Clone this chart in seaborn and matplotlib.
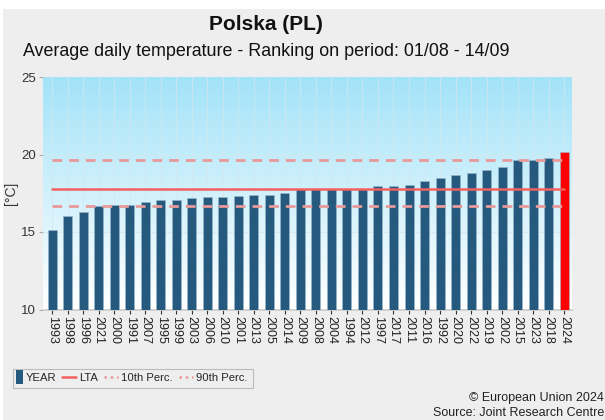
import numpy as np
import pandas as pd
import matplotlib
matplotlib.use("Agg")
import matplotlib.pyplot as plt
from matplotlib.patches import Rectangle, Patch
from matplotlib.lines import Line2D
from matplotlib.legend_handler import HandlerPatch
import seaborn as sns

years = ["1993", "1998", "1996", "2021", "2000", "1991", "2007", "1995", "1999",
         "2003", "2006", "2010", "2001", "2013", "2005", "2014", "2009", "2008",
         "2004", "1994", "2012", "1997", "2017", "2011", "2016", "1992", "2020",
         "2022", "2019", "2002", "2015", "2023", "2018", "2024"]
temps = [15.15, 16.05, 16.29, 16.70, 16.76, 16.76, 16.93, 17.06, 17.08,
         17.17, 17.23, 17.27, 17.30, 17.36, 17.40, 17.53, 17.75, 17.75,
         17.75, 17.75, 17.76, 17.96, 17.96, 18.03, 18.28, 18.48, 18.67,
         18.78, 19.01, 19.18, 19.64, 19.66, 19.79, 20.13]
lta = 17.79
p10 = 16.70
p90 = 19.66
current_year = "2024"

BAR = "#255a7e"
CUR = "#ff0000"

sns.set_theme(style="white")
plt.rcParams["font.family"] = ["Liberation Sans", "DejaVu Sans"]

fig = plt.figure(figsize=(6.05, 4.2), dpi=100, facecolor="white")
fig.patches.append(Rectangle((3 / 605, 0), 1, 1 - 9 / 420, transform=fig.transFigure,
                             facecolor="#eeeeee", edgecolor="none", zorder=-10))

ax = fig.add_axes([43 / 605, 1 - 309.5 / 420, (572 - 43) / 605, (309.5 - 77) / 420])

# vertical gradient background: light sky blue fading to white
grad = np.linspace(1, 0, 256).reshape(-1, 1)
top = np.array([0.64, 0.89, 0.975])
bot = np.array([1.0, 1.0, 1.0])
img = bot + (top - bot) * grad[..., None]
ax.imshow(img, extent=[0, 1, 0, 1], transform=ax.transAxes, aspect="auto", zorder=0)

df = pd.DataFrame({"year": years, "temp": temps})
df["kind"] = np.where(df["year"] == current_year, "cur", "past")
sns.barplot(data=df, x="year", y="temp", hue="kind",
            palette={"past": BAR, "cur": CUR}, saturation=1, dodge=False,
            width=0.58, edgecolor="#9ab8cc", linewidth=0.4, legend=False,
            ax=ax, zorder=3)

n = len(years)
ax.set_xlim(-0.58, n - 0.5)
ax.set_ylim(10, 25)
ax.set_yticks([10, 15, 20, 25])

for x in range(n):
    ax.axvline(x, color="#d6e6ec", lw=0.5, zorder=1)
for y in (15, 20):
    ax.axhline(y, color="#d6e6ec", lw=0.5, zorder=1)

ax.plot([0, n - 1], [p90, p90], color="#e89a9a", lw=2, ls=(0, (3.5, 2.5)), zorder=4)
ax.plot([0, n - 1], [p10, p10], color="#e89a9a", lw=2, ls=(0, (3.5, 2.5)), zorder=4)
ax.plot([0, n - 1], [lta, lta], color="#f26060", lw=1.8, zorder=4)

for s in ("top", "right", "left"):
    ax.spines[s].set_visible(False)
ax.spines["bottom"].set_color("#cccccc")
ax.tick_params(axis="x", rotation=-90, labelsize=9, length=3, width=0.8,
               color="#333333", bottom=True, pad=1.5)
ax.tick_params(axis="y", labelsize=9.5, length=3, width=0.8, color="#aaaaaa",
               left=True, pad=2, labelcolor="#333333")
for lbl in ax.get_xticklabels():
    lbl.set_color("#222222")
ax.set_xlabel("")
ax.set_ylabel("[°C]", fontsize=10, color="#333333", labelpad=2)

fig.text(266 / 605, 1 - 25 / 420, "Polska (PL)", ha="center", va="center",
         fontsize=15, fontweight="bold", color="#111111")
fig.text(266 / 605, 1 - 52 / 420,
         "Average daily temperature - Ranking on period: 01/08 - 14/09",
         ha="center", va="center", fontsize=12.9, color="#111111")


class NarrowBar(HandlerPatch):
    """Draw the bar legend key as a tall, narrow block at the right of its slot."""
    def create_artists(self, legend, orig_handle, xdescent, ydescent,
                       width, height, fontsize, trans):
        w = 5
        r = Rectangle((-xdescent + width - w, -ydescent - 2.5), w, height + 5,
                      facecolor=BAR, edgecolor="none", transform=trans)
        return [r]


handles = [
    Patch(facecolor=BAR, edgecolor="none"),
    Line2D([], [], color="#f26060", lw=1.8),
    Line2D([], [], color="#e89a9a", lw=1.8, ls=(0, (1, 1.5))),
    Line2D([], [], color="#e89a9a", lw=1.8, ls=(0, (1, 1.5))),
]
leg = fig.legend(handles, ["YEAR", "LTA", "10th Perc.", "90th Perc."],
                 loc="center left", bbox_to_anchor=(4 / 605, 1 - 378 / 420),
                 ncol=4, fontsize=8.1, frameon=False,
                 handlelength=1.25, handletextpad=0.25, columnspacing=0.55,
                 borderpad=0.4, borderaxespad=0,
                 handler_map={Patch: NarrowBar()})

# legend frame drawn separately so it hugs the narrow bar key
fig.canvas.draw()
bb = leg.get_window_extent()
W, H = fig.bbox.width, fig.bbox.height
fig.patches.append(Rectangle(((bb.x0 + 9) / W, bb.y0 / H), (bb.width - 8) / W,
                             bb.height / H, transform=fig.transFigure,
                             facecolor="#eeeeee", edgecolor="#bbbbbb",
                             linewidth=0.8, zorder=-5))

fig.text(604 / 605, 1 - 398 / 420, "© European Union 2024", ha="right", va="center",
         fontsize=9, color="#222222")
fig.text(604 / 605, 1 - 413 / 420, "Source: Joint Research Centre", ha="right",
         va="center", fontsize=9, color="#222222")

fig.savefig("out.png", dpi=100, facecolor=fig.get_facecolor())
